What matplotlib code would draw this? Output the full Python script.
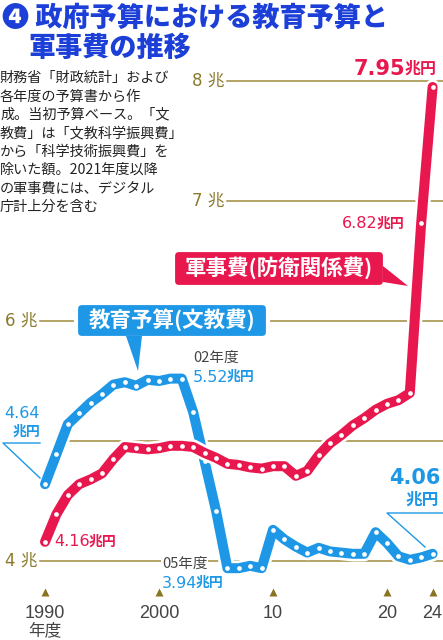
import numpy as np
import matplotlib
matplotlib.use("Agg")
from matplotlib import pyplot as plt
from matplotlib import patches as mpatches
from matplotlib import transforms as mtransforms
from matplotlib import patheffects as pe

# data (trillion yen, initial budget base)
years = list(range(1990, 2025))
edu = [4.64, 4.89, 5.14, 5.23, 5.32, 5.39, 5.47, 5.49, 5.46, 5.51,
       5.50, 5.52, 5.52, 5.24, 4.83, 4.42, 3.94, 3.94, 3.96, 3.94,
       4.26, 4.18, 4.12, 4.07, 4.11, 4.08, 4.07, 4.06, 4.06, 4.24,
       4.15, 4.04, 4.01, 4.03, 4.06]
mil = [4.16, 4.39, 4.55, 4.64, 4.68, 4.73, 4.85, 4.95, 4.94, 4.93,
       4.94, 4.96, 4.96, 4.95, 4.90, 4.86, 4.81, 4.80, 4.78, 4.77,
       4.79, 4.79, 4.71, 4.75, 4.88, 4.98, 5.05, 5.13, 5.19, 5.26,
       5.31, 5.34, 5.40, 6.82, 7.95]
tick_years = [1990, 2000, 2010, 2020, 2024]
tick_labels = ["1990", "2000", "10", "20", "24"]
grid_levels = [8, 7, 6, 5, 4]
grid_labels = ["8 兆", "7 兆", "6 兆", "", "4 兆"]

title1 = "❹ 政府予算における教育予算と"
title2 = "軍事費の推移"
note = ["財務省「財政統計」および", "各年度の予算書から作", "成。当初予算ベース。「文",
        "教費」は「文教科学振興費」", "から「科学技術振興費」を", "除いた額。2021年度以降",
        "の軍事費には、デジタル", "庁計上分を含む"]

W, H = 443, 640
BLUE = "#1e98e6"
RED = "#e8184f"
GOLD = "#a08a3a"
GOLDTXT = "#8b7a2e"
TITLE = "#1c3fd8"

CJK = ["Noto Sans CJK JP", "DejaVu Sans"]
NUM = ["DejaVu Sans", "Noto Sans CJK JP"]
plt.rcParams["font.family"] = CJK

fig = plt.figure(figsize=(W / 100, H / 100), dpi=100)
ax = fig.add_axes([0, 0, 1, 1])
ax.set_xlim(1990 - 45 / 11.4, 1990 + 398 / 11.4)
ax.set_ylim(4 - 79 / 120, 4 + 561 / 120)
ax.axis("off")
T = mtransforms.IdentityTransform()


def P(x, y):
    return (x, H - y)


# grid lines
starts = [227, 227, 40, 60, 40]
ytr = ax.get_yaxis_transform()
for lev, lab, s in zip(grid_levels, grid_labels, starts):
    ax.plot([s / W, 1], [lev, lev], color=GOLD, lw=1.1, transform=ytr, zorder=1)
    if lab:
        ax.text((s - 3) / W, lev, lab, transform=ytr, ha="right", va="center",
                fontsize=12, color=GOLDTXT, family=NUM)

# lines
halo = [pe.withStroke(linewidth=11, foreground="white")]
ax.plot(years, edu, color=BLUE, lw=7.2, solid_capstyle="round", solid_joinstyle="round",
        path_effects=halo, zorder=3)
ax.plot(years, edu, "o", ms=3.4, mfc="white", mec="none", zorder=4)
ax.plot(years, mil, color=RED, lw=7.2, solid_capstyle="round", solid_joinstyle="round",
        path_effects=halo, zorder=5)
ax.plot(years, mil, "o", ms=3.4, mfc="white", mec="none", zorder=6)

# x ticks
btr = mtransforms.blended_transform_factory(ax.transData, ax.transAxes)
ax.plot(tick_years, [1 - 592 / H] * len(tick_years), "^", ms=5.5, color="#8b7420",
        mec="none", transform=btr, zorder=2)
for yr, lab in zip(tick_years, tick_labels):
    ax.text(yr, 1 - 613 / H, lab, transform=btr, ha="center", va="center",
            fontsize=13, color="#444444", family=["Liberation Sans", "DejaVu Sans"])
ax.text(tick_years[0], 1 - 631 / H, "年度", transform=btr, ha="center", va="center",
        fontsize=12, color="#444444")

# title and note
fig.text(*P(2, 18), title1, transform=T, fontsize=19.5, fontweight="black", color=TITLE,
         va="center", ha="left", family=CJK)
fig.text(*P(28, 48), title2, transform=T, fontsize=19.5, fontweight="black", color=TITLE,
         va="center", ha="left")
for i, line in enumerate(note):
    fig.text(*P(0, 78 + 18.4 * i), line, transform=T, fontsize=10.2, color="#222222",
             va="center", ha="left")

# legend boxes with pointers
def tag(x0, y0, x1, y1, tail, text, color):
    box = mpatches.FancyBboxPatch(P(x0, y1), x1 - x0, y1 - y0, transform=T,
                                  boxstyle="round,pad=0,rounding_size=6",
                                  fc=color, ec="white", lw=3, zorder=7)
    fig.add_artist(box)
    tri = mpatches.Polygon([P(*p) for p in tail], closed=True, transform=T,
                           fc=color, ec="none", zorder=7)
    fig.add_artist(tri)
    fig.text(*P((x0 + x1) / 2, (y0 + y1) / 2 - 1), text, transform=T, fontsize=15.5,
             fontweight="bold", color="white", ha="center", va="center", zorder=8)


tag(76, 303, 268, 338, [(126, 336), (142, 336), (138, 371)], "教育予算(文教費)", BLUE)
tag(173, 250, 385, 287, [(383, 266), (383, 282), (408, 286)], "軍事費(防衛関係費)", RED)


# value labels
def value(x, y, num, color, size=11.5, unit_size=10, weight="normal"):
    t = fig.text(*P(x, y), num, transform=T, fontsize=size, color=color, family=NUM,
                 fontweight=weight, ha="left", va="center")
    fig.canvas.draw()
    bb = t.get_window_extent()
    fig.text(bb.x1 - 1.5, H - y + 0.5, "兆円", transform=T, fontsize=unit_size, color=color,
             fontweight="bold", ha="left", va="center")


i02 = years.index(2002)
value(54, 542, f"{mil[0]:.2f}", RED)
value(193, 377, f"{edu[i02]:.2f}", BLUE)
value(162, 583, f"{min(edu):.2f}", BLUE)
value(342, 224, f"{mil[-2]:.2f}", RED)
value(354, 69, f"{mil[-1]:.2f}", RED, size=15, unit_size=11.5, weight="bold")
fig.text(*P(193, 358), "02年度", transform=T, fontsize=10.5, color="#444444", ha="left", va="center")
fig.text(*P(162, 564), "05年度", transform=T, fontsize=10.5, color="#444444", ha="left", va="center",
         bbox=dict(fc="white", ec="none", pad=0.5), zorder=2)

# left 4.64 label
fig.text(*P(40, 413), f"{edu[0]:.2f}", transform=T, fontsize=11.5, color=BLUE, family=NUM,
         ha="right", va="center")
fig.text(*P(40, 432), "兆円", transform=T, fontsize=10, color=BLUE, fontweight="bold",
         ha="right", va="center")
fig.add_artist(plt.Line2D([40, 3, 40], [H - 443, H - 443, H - 478],
                          transform=T, color=BLUE, lw=1))

# right 4.06 label
fig.text(*P(440, 478), f"{edu[-1]:.2f}", transform=T, fontsize=15, color=BLUE, family=NUM,
         fontweight="bold", ha="right", va="center")
fig.text(*P(439, 500), "兆円", transform=T, fontsize=12, color=BLUE, fontweight="bold",
         ha="right", va="center")
fig.add_artist(plt.Line2D([443, 387, 425], [H - 513, H - 513, H - 547],
                          transform=T, color=BLUE, lw=1))

fig.savefig("out.png", dpi=100)
